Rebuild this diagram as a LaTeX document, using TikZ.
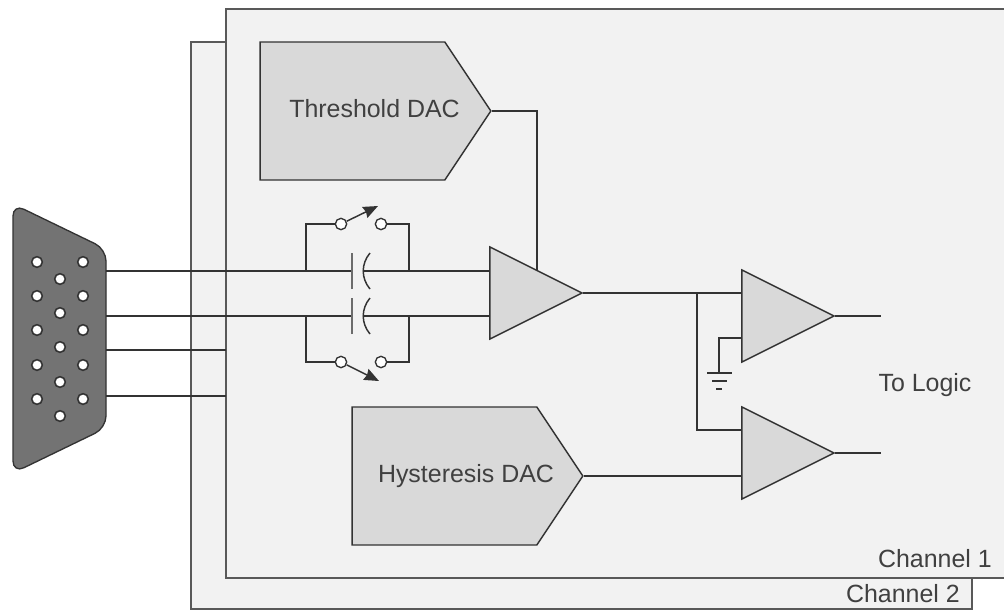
\documentclass[tikz,border=0pt]{standalone}
\usepackage{fontspec}
\setmainfont{Liberation Sans}
\usetikzlibrary{shapes.geometric,shapes.symbols,arrows.meta}
\definecolor{panelgray}{HTML}{F2F2F2}
\definecolor{partgray}{HTML}{D9D9D9}
\definecolor{plugray}{HTML}{737373}
\definecolor{wiregray}{HTML}{333333}
\definecolor{textgray}{HTML}{404040}
\begin{document}
\begin{tikzpicture}[x=0.75pt,y=-0.75pt]
\tikzstyle{wire}=[draw=wiregray,line width=1.1pt];
\tikzstyle{panel}=[draw=gray!70!black,line width=1.2pt,fill=panelgray];
\tikzstyle{amp}=[draw=wiregray,line width=1.1pt,fill=partgray,isosceles triangle,isosceles triangle apex angle=90,isosceles triangle stretches,inner sep=0pt,minimum width=69pt,minimum height=69pt,anchor=apex];
\tikzstyle{dac}=[draw=wiregray,line width=1.1pt,fill=partgray,signal,signal to=east,signal pointer angle=112.6,inner sep=0pt,minimum width=173pt,minimum height=103.5pt];
\tikzstyle{contact}=[draw=wiregray,line width=1pt,fill=white,circle,inner sep=0pt,minimum size=8.5pt];
\tikzstyle{pinhole}=[draw=wiregray,line width=1.2pt,fill=white,circle,inner sep=0pt,minimum size=8pt];
\tikzstyle{label}=[text=textgray,font=\fontsize{18.7}{22}\selectfont,inner sep=0pt];
\useasboundingbox (0,0) rectangle (1004,612);

  % channel panels
  \draw[panel] (972,578) -- (972,609) -- (191,609) -- (191,42) -- (226,42) -- (1004,42) -- (1004,578) -- cycle;
  \fill[white] (973,579) rectangle (1004,612);
  \draw[panel] (1005,9) -- (226,9) -- (226,578) -- (1005,578);
  \node[label,anchor=east] (ch1) at (992,559) {Channel 1};
  \node[label,anchor=east] (ch2) at (960,593.5) {Channel 2};

  % plug
  \draw[draw=wiregray,line width=1pt,fill=plugray,rounded corners=9pt] (13,204) -- (106,249) -- (106,428) -- (13,473) -- cycle;
  \foreach \y in {262,296,330,365,399} {
    \node[pinhole] at (37,\y) {};
    \node[pinhole] at (83,\y) {};
  }
  \foreach \y in {279,313,347,382,416}
    \node[pinhole] at (60,\y) {};

  % parts
  \node[dac] (thr) at (352.5,111) {};
  \node[dac] (hys) at (444.5,476) {};
  \node[label] (thrl) at (374.5,109) {Threshold DAC};
  \node[label] (hysl) at (466,476.5) {Hysteresis DAC};
  \node[amp] (a) at (583,293) {};
  \node[amp] (b) at (835,316) {};
  \node[amp] (c) at (835,453) {};
  \node[label] (logic) at (925,385.5) {To Logic};

  \coordinate (p1) at (106,271);
  \coordinate (p2) at (106,316);
  \coordinate (p3) at (106,350);
  \coordinate (p4) at (106,396);
  \coordinate (e3) at (226,350);
  \coordinate (e4) at (226,396);
  \coordinate (c1l) at (352,271);
  \coordinate (c1r) at (363,271);
  \coordinate (c2l) at (352,316);
  \coordinate (c2r) at (363,316);
  \coordinate (a1) at (490,271);
  \coordinate (a2) at (490,316);
  \coordinate (a3) at (537,270);
  \coordinate (b1) at (742,293);
  \coordinate (b2) at (742,338);
  \coordinate (c1) at (742,430);
  \coordinate (c2) at (742,476);
  \coordinate (o1) at (881,316);
  \coordinate (o2) at (881,453);
  \coordinate (g) at (719,373);

  \foreach \from/\to in {p1/c1l, p2/c2l, p3/e3, p4/e4, c1r/a1, c2r/a2, b.apex/o1, c.apex/o2, hys.east/c2}
\draw [wire] (\from) -- (\to);

  % capacitor plates
  \foreach \l/\r in {c1l/c1r, c2l/c2r} {
    \draw [wire,draw=gray!85!black] ([yshift=-13.5]\l) -- ([yshift=13.5]\l);
    \draw [wire] ([xshift=5.25,yshift=-13.5]\r) to[bend left=40] ([xshift=5.25,yshift=13.5]\r);
  }

  % switches
  \node[contact] (s1) at (341,224) {};
  \node[contact] (s2) at (381,224) {};
  \node[contact] (s3) at (341,362) {};
  \node[contact] (s4) at (381,362) {};
  \coordinate (t1) at (378,206);
  \coordinate (t2) at (379,381);
  \draw [wire] (306,271) |- (s1);
  \draw [wire] (s2) -| (409,271);
  \draw [wire] (306,316) |- (s3);
  \draw [wire] (s4) -| (409,316);
  \draw [wire,-{Stealth[length=11pt,width=9pt,inset=1pt]}] (s1) -- (t1);
  \draw [wire,-{Stealth[length=11pt,width=9pt,inset=1pt]}] (s3) -- (t2);

  % feeds
  \draw [wire] (thr.east) -| (a3);
  \draw [wire] (a.apex) -- (b1);
  \draw [wire] (697,293) |- (c1);
  \draw [wire] (b2) -| (g);
  \draw [wire] (707,373) -- (732,373);
  \draw [wire] (712,381) -- (727,381);
  \draw [wire] (716,389) -- (722,389);

\end{tikzpicture}
\end{document}
